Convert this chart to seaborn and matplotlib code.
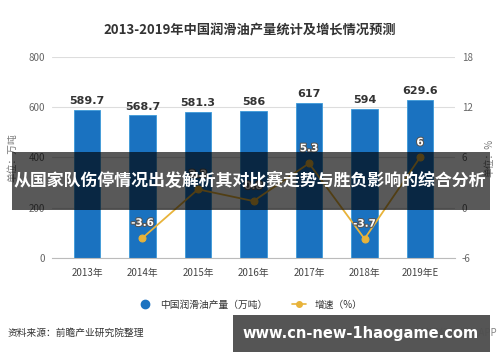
import matplotlib
matplotlib.use("Agg")
import matplotlib.pyplot as plt
import matplotlib.patheffects as pe
from matplotlib.lines import Line2D
from matplotlib.patches import Rectangle
import numpy as np
import pandas as pd
import seaborn as sns

# 数据
years = ["2013年", "2014年", "2015年", "2016年", "2017年", "2018年", "2019年E"]
output = [589.7, 568.7, 581.3, 586, 617, 594, 629.6]
growth = [np.nan, -3.6, 2.2, 0.8, 5.3, -3.7, 6]
left_ticks = [0, 200, 400, 600, 800]
right_ticks = [-6, 0, 6, 12, 18]

title = "2013-2019年中国润滑油产量统计及增长情况预测"
banner = "从国家队伤停情况出发解析其对比赛走势与胜负影响的综合分析"
source = "资料来源：前瞻产业研究院整理"
site = "www.cn-new-1haogame.com"

df = pd.DataFrame({"year": years, "output": output, "growth": growth})
df["pos"] = np.arange(len(df))

sns.set_style("white")
plt.rcParams["font.family"] = ["Noto Sans CJK SC", "DejaVu Sans"]
plt.rcParams["axes.unicode_minus"] = False

bar_c = "#1a72c0"
line_c = "#e8b33a"
tick_c = "#666666"

fig = plt.figure(figsize=(5, 3.62), dpi=100)
ax = fig.add_axes([0.104, 0.287, 0.806, 0.556])

sns.barplot(data=df, x="year", y="output", color=bar_c, width=0.47,
            saturation=1, ax=ax, edgecolor="#3d9ad8", linewidth=0.6)
ax.set_ylim(0, 800)
ax.set_xlim(-0.63, 6.63)
ax.set_yticks(left_ticks)
ax.grid(axis="y", color="#dddddd", linewidth=0.8)
ax.set_axisbelow(True)
for s in ["top", "right", "left"]:
    ax.spines[s].set_visible(False)
ax.spines["bottom"].set_color("#bbbbbb")
ax.tick_params(axis="y", length=0, labelsize=7, colors=tick_c, pad=5)
ax.tick_params(axis="x", length=3, color="#bbbbbb", labelsize=7, colors="#444444", pad=4)
ax.set_xlabel("")
ax.set_ylabel("单位：万吨", fontsize=7, color="#777777", labelpad=8)

for i, v in enumerate(output):
    ax.text(i, v + 14, f"{v:g}", ha="center", va="bottom", fontsize=8,
            fontweight="bold", color="#333333", family="DejaVu Sans")

ax2 = ax.twinx()
sns.lineplot(data=df.dropna(), x="pos", y="growth", color=line_c, linewidth=1.3,
             marker="o", markersize=5, markeredgecolor=line_c, ax=ax2)
ax2.set_ylim(-6, 18)
ax2.set_yticks(right_ticks)
for s in ["top", "right", "left", "bottom"]:
    ax2.spines[s].set_visible(False)
ax2.tick_params(axis="y", length=0, labelsize=7, colors=tick_c, pad=5)
ax2.set_ylabel("单位：%", fontsize=7, color="#777777", labelpad=8)
ax2.set_xlabel("")

for i, g in enumerate(growth):
    if np.isnan(g):
        continue
    t = ax2.text(i, g + 1.2, f"{g:g}", ha="center", va="bottom", fontsize=7.5,
                 fontweight="bold", color="white", family="DejaVu Sans")
    t.set_path_effects([pe.withStroke(linewidth=1.5, foreground="#555555")])

fig.text(0.5, 0.917, title, ha="center", va="center", fontsize=9.5,
         fontweight="bold", color="#333333")

handles = [
    Line2D([0], [0], marker="o", color="none", markerfacecolor=bar_c,
           markeredgecolor=bar_c, markersize=6),
    Line2D([0], [0], marker="o", color=line_c, markerfacecolor=line_c,
           markersize=4, linewidth=1.2),
]
fig.legend(handles, ["中国润滑油产量（万吨）", "增速（%）"], loc="center",
           bbox_to_anchor=(0.5, 0.158), ncol=2, frameon=False, fontsize=7,
           handlelength=1.5, columnspacing=2.5, labelcolor="#333333")

fig.text(0.016, 0.08, source, ha="left", va="center", fontsize=7, color="#333333")
fig.text(0.995, 0.08, "©前瞻经济学人APP", ha="right", va="center", fontsize=7,
         color="#888888")

# 遮罩横幅
fig.patches.append(Rectangle((0.024, 0.42), 0.956, 0.16, transform=fig.transFigure,
                             facecolor="black", alpha=0.65, edgecolor="none", zorder=5))
fig.text(0.5, 0.5, banner, ha="center", va="center", fontsize=12.2,
         fontweight="bold", color="white", zorder=6)

fig.patches.append(Rectangle((0.466, 0.028), 0.514, 0.102, transform=fig.transFigure,
                             facecolor="#4f4f4f", alpha=0.97, edgecolor="none", zorder=5))
fig.text(0.722, 0.079, site, ha="center", va="center", fontsize=10.5,
         fontweight="bold", color="white", family="DejaVu Sans", zorder=6)

fig.savefig("out.png", dpi=100, facecolor="white")
